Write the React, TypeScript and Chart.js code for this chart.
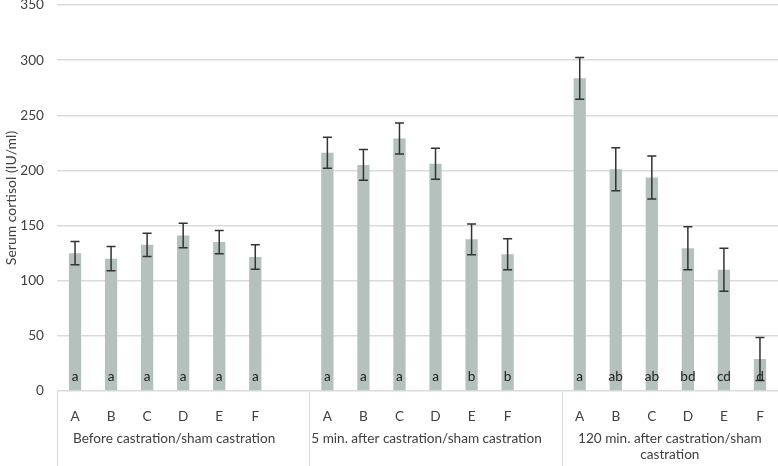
import React, { useEffect, useRef } from 'react';
import { Chart, registerables } from 'chart.js';
Chart.register(...registerables);

const treatments = ['A', 'B', 'C', 'D', 'E', 'F'];
const groupLabels: string[][] = [
  ['Before castration/sham castration'],
  ['5 min. after castration/sham castration'],
  ['120 min. after castration/sham', 'castration'],
];
const beforeValues = [125, 120, 132.5, 141, 135, 121.5];
const beforeErrors = [10.5, 11, 10.5, 11, 10.5, 11];
const beforeLetters = ['a', 'a', 'a', 'a', 'a', 'a'];
const after5Values = [216, 205, 229, 206, 137.5, 124];
const after5Errors = [14, 14, 14, 14, 14, 14];
const after5Letters = ['a', 'a', 'a', 'a', 'b', 'b'];
const after120Values = [283.5, 201, 193.5, 129.5, 110, 29];
const after120Errors = [19, 19.5, 19.5, 19.5, 19.5, 19.5];
const after120Letters = ['a', 'ab', 'ab', 'bd', 'cd', 'd'];
const yTicks = [0, 50, 100, 150, 200, 250, 300, 350];

const FONT = 'Lato, "Open Sans", sans-serif';
const FS = 13.6;
const TEXT = '#404040';
const GRID = '#d9dcdb';

// build flat category list with one empty slot after the first two groups
const groupsValues = [beforeValues, after5Values, after120Values];
const groupsErrors = [beforeErrors, after5Errors, after120Errors];
const groupsLetters = [beforeLetters, after5Letters, after120Letters];
const labels: string[] = [];
const values: (number | null)[] = [];
const errors: (number | null)[] = [];
const letters: string[] = [];
const groupRanges: { start: number; end: number; gap: boolean }[] = [];
groupsValues.forEach((vals, g) => {
  const start = labels.length;
  vals.forEach((v, i) => {
    labels.push(treatments[i]);
    values.push(v);
    errors.push(groupsErrors[g][i]);
    letters.push(groupsLetters[g][i]);
  });
  const gap = g < groupsValues.length - 1;
  if (gap) {
    labels.push('');
    values.push(null);
    errors.push(null);
    letters.push('');
  }
  groupRanges.push({ start, end: labels.length - 1, gap });
});

const overlayPlugin = {
  id: 'overlay',
  afterDatasetsDraw(chart: any) {
    const { ctx, scales } = chart;
    const y = scales.y;
    const meta = chart.getDatasetMeta(0);
    ctx.save();
    // error bars
    ctx.strokeStyle = '#333333';
    ctx.lineWidth = 1.5;
    meta.data.forEach((bar: any, i: number) => {
      const v = values[i];
      const e = errors[i];
      if (v == null || e == null) return;
      const cx = bar.x;
      const yt = y.getPixelForValue(v + e);
      const yb = y.getPixelForValue(v - e);
      ctx.beginPath();
      ctx.moveTo(cx, yt);
      ctx.lineTo(cx, yb);
      ctx.moveTo(cx - 4.5, yt);
      ctx.lineTo(cx + 4.5, yt);
      ctx.moveTo(cx - 4.5, yb);
      ctx.lineTo(cx + 4.5, yb);
      ctx.stroke();
    });
    // letters
    ctx.fillStyle = '#222222';
    ctx.font = `${FS}px ${FONT}`;
    ctx.textAlign = 'center';
    ctx.textBaseline = 'middle';
    const y0 = y.getPixelForValue(0);
    meta.data.forEach((bar: any, i: number) => {
      if (!letters[i]) return;
      ctx.fillText(letters[i], bar.x, y0 - 14);
    });
    ctx.restore();
  },
  afterDraw(chart: any) {
    const { ctx, scales, chartArea } = chart;
    const x = scales.x;
    const slot = x.width / labels.length;
    ctx.save();
    ctx.strokeStyle = GRID;
    ctx.lineWidth = 1;
    const bottom = chart.height;
    groupRanges.forEach((r, g) => {
      const left = x.getPixelForValue(r.start) - slot / 2;
      const right = x.getPixelForValue(r.end) + slot / 2;
      const lx = Math.round(left) + 0.5;
      ctx.beginPath();
      ctx.moveTo(lx, chartArea.bottom);
      ctx.lineTo(lx, bottom);
      ctx.stroke();
      const cx = (left + (r.gap ? right - slot / 2 : right)) / 2;
      ctx.fillStyle = TEXT;
      ctx.font = `${FS}px ${FONT}`;
      ctx.textAlign = 'center';
      ctx.textBaseline = 'middle';
      groupLabels[g].forEach((line, k) => {
        ctx.fillText(line, cx, chartArea.bottom + 48 + k * 16);
      });
    });
    ctx.restore();
  },
};

export default function App() {
  const ref = useRef<HTMLCanvasElement>(null);
  useEffect(() => {
    document.body.style.margin = '0';
    const chart = new Chart(ref.current!, {
      type: 'bar',
      data: {
        labels,
        datasets: [
          {
            data: values as any,
            backgroundColor: '#b5c1bd',
            barPercentage: 0.34,
            categoryPercentage: 1,
          },
        ],
      },
      options: {
        animation: false,
        responsive: true,
        maintainAspectRatio: false,
        layout: { padding: { top: 5, right: 0, left: 0, bottom: 0 } },
        plugins: { legend: { display: false }, tooltip: { enabled: false } },
        scales: {
          x: {
            grid: { display: false },
            border: { display: false },
            ticks: {
              color: TEXT,
              font: { family: FONT, size: FS },
              padding: 9,
              autoSkip: false,
              maxRotation: 0,
            },
            afterFit: (s: any) => {
              s.height = 75;
              s.paddingLeft = 0;
              s.paddingRight = 0;
            },
          },
          y: {
            min: 0,
            max: 350,
            afterBuildTicks: (s: any) => {
              s.ticks = yTicks.map((v) => ({ value: v }));
            },
            grid: { color: GRID, lineWidth: 1.5, drawTicks: false },
            border: { display: false },
            ticks: {
              color: TEXT,
              font: { family: FONT, size: FS },
              padding: 13,
            },
            title: {
              display: true,
              text: 'Serum cortisol (IU/ml)',
              color: TEXT,
              font: { family: FONT, size: 14 },
              padding: { top: 3, bottom: 0 },
            },
            afterFit: (s: any) => {
              s.width = 57;
              s.paddingTop = 0;
              s.paddingBottom = 0;
            },
          },
        },
      },
      plugins: [overlayPlugin],
    });
    return () => chart.destroy();
  }, []);
  return (
    <div style={{ width: 778, height: 466, position: 'relative' }}>
      <canvas ref={ref} />
    </div>
  );
}
